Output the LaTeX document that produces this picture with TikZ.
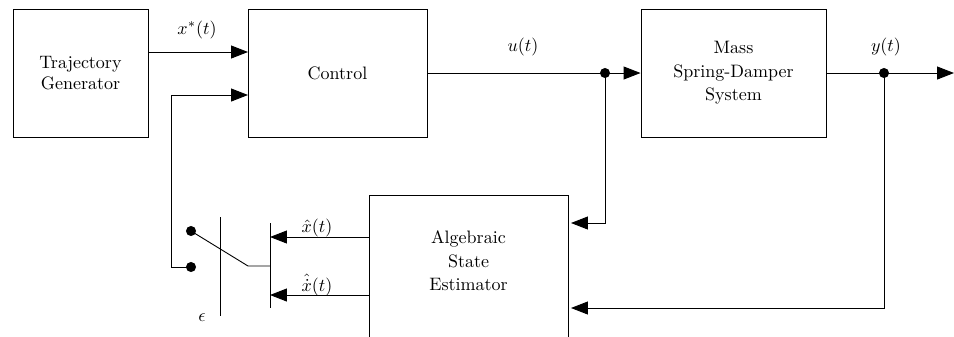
\documentclass[tikz,border=0pt]{standalone}
\usetikzlibrary{arrows.meta}
\begin{document}
\begin{tikzpicture}[x=0.5556pt,y=-0.5556pt,
  blk/.style={draw, line width=0.5pt, align=center, inner sep=0pt},
  arr/.style={-{Triangle[length=9.4pt,width=7.2pt]}},
  dotn/.style={circle, fill, inner sep=0pt, minimum size=5.6pt},
  lbl/.style={inner sep=0pt},
  line width=0.5pt]
\useasboundingbox (0,0) rectangle (954,336);
% blocks
\node[blk, minimum width=75pt, minimum height=71.1pt] (traj) at (80.5,73) {Trajectory\\Generator};
\node[blk, minimum width=99.5pt, minimum height=71.1pt] (ctrl) at (337.5,73) {Control};
\node[blk, minimum width=102.8pt, minimum height=71.1pt] (mass) at (733.5,73) {Mass\\[1pt]Spring-Damper\\[1pt]System};
\node[blk, minimum width=110.6pt, minimum height=83.3pt, anchor=north] (est) at (468.5,195) {};
\node[align=center, inner sep=0pt] (esttxt) at (468.5,261) {Algebraic\\[1pt]State\\[1pt]Estimator};
% coordinates
\coordinate (cin1) at (248,52);
\coordinate (cin2) at (248,95);
\coordinate (ju) at (605,73);
\coordinate (jy) at (884,73);
\coordinate (yend) at (954,73);
\coordinate (ein1) at (571,223);
\coordinate (ein2) at (571,308);
\coordinate (bl1) at (220,217);
\coordinate (bl2) at (220,316);
\coordinate (br1) at (270,223);
\coordinate (br2) at (270,308);
\coordinate (sw) at (248,266);
\coordinate (swm) at (270,266);
\coordinate (bx1) at (270,237);
\coordinate (bx2) at (270,295);
\coordinate (fbl) at (171,267);
% connectors
\draw[arr] (traj.east |- cin1) -- (cin1);
\draw (ctrl.east) -- (ju);
\draw[arr] (ju) -- (mass.west);
\draw (mass.east) -- (jy);
\draw[arr] (jy) -- (yend);
\draw[arr] (ju) |- (ein1);
\draw[arr] (jy) |- (ein2);
% switch
\draw (bl1) -- (bl2);
\draw (br1) -- (br2);
\node[dotn] (s1) at (191,231) {};
\node[dotn] (s2) at (191,267) {};
\draw (s1.center) -- (sw) -- (swm);
\draw[arr] (est.west |- bx1) -- (bx1);
\draw[arr] (est.west |- bx2) -- (bx2);
\draw[arr] (s2.center) -- (fbl) |- (cin2);
% junction dots
\node[dotn] (dju) at (ju) {};
\node[dotn] (djy) at (jy) {};
% labels
\node[lbl] (lx) at (197,30) {$x^*(t)$};
\node[lbl] (lu) at (523,47) {$u(t)$};
\node[lbl] (ly) at (886,47) {$y(t)$};
\node[lbl] (lxh) at (317,228) {$\hat{x}(t)$};
\node[lbl] (lxd) at (317,285) {$\hat{\dot{x}}(t)$};
\node[lbl] (leps) at (202,318) {$\epsilon$};
\end{tikzpicture}
\end{document}
